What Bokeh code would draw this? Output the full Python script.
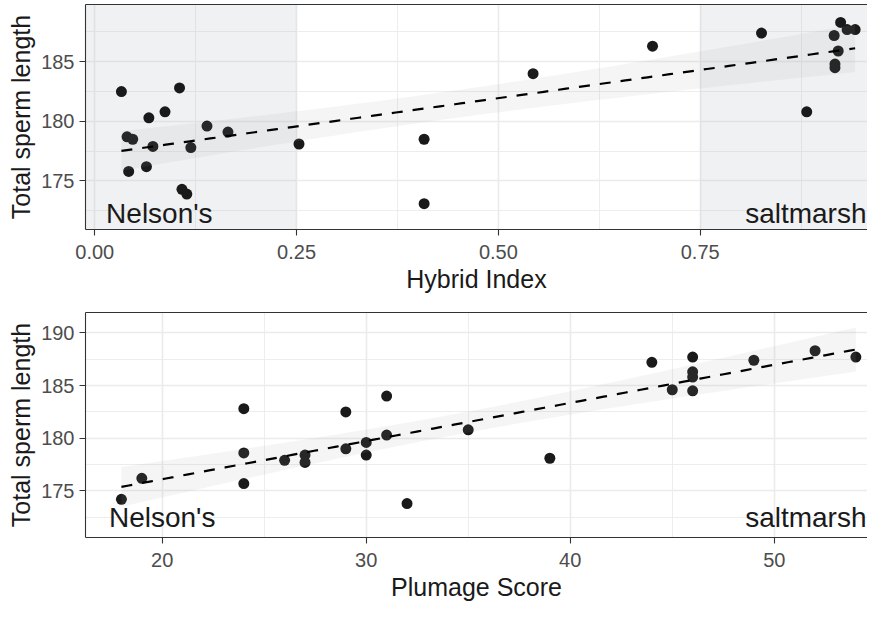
import numpy as np
from bokeh.plotting import figure
from bokeh.layouts import column
from bokeh.models import FixedTicker, BoxAnnotation, Range1d, NumeralTickFormatter, LinearAxis
from bokeh.core.properties import value
from bokeh.embed import file_html
from bokeh.resources import INLINE

# ---- data ----
hybrid_index = [0.033, 0.040, 0.047, 0.042, 0.067, 0.064, 0.072, 0.087, 0.105, 0.108,
                0.114, 0.119, 0.139, 0.165, 0.253, 0.408, 0.408, 0.543, 0.691, 0.826,
                0.924, 0.932, 0.942, 0.916, 0.921, 0.917, 0.917, 0.882]
sperm_hybrid = [182.5, 178.7, 178.5, 175.8, 180.3, 176.2, 177.9, 180.8, 182.8, 174.3,
                173.9, 177.8, 179.6, 179.1, 178.1, 178.5, 173.1, 184.0, 186.3, 187.4,
                188.3, 187.7, 187.7, 187.2, 185.9, 184.8, 184.5, 180.8]

plumage_score = [18, 19, 24, 24, 24, 26, 27, 27, 29, 29, 30, 30, 31, 31, 32,
                 35, 39, 44, 45, 46, 46, 46, 46, 49, 52, 54]
sperm_plumage = [174.2, 176.2, 182.8, 178.6, 175.7, 177.9, 178.4, 177.7, 182.5, 179.0,
                 179.6, 178.4, 184.0, 180.3, 173.8, 180.8, 178.1, 187.2, 184.6, 187.7,
                 186.3, 185.8, 184.5, 187.4, 188.3, 187.7]

x_ticks_top = [0.0, 0.25, 0.5, 0.75]
x_minor_top = [0.125, 0.375, 0.625, 0.875]
x_ticks_bottom = [20, 30, 40, 50]
x_minor_bottom = [15, 25, 35, 45, 55]
y_ticks = [175, 180, 185, 190]
y_minor = [172.5, 177.5, 182.5, 187.5]

nelson_max_hi = 0.25      # Nelson's shaded region upper bound (hybrid index)
saltmarsh_min_hi = 0.75   # saltmarsh shaded region lower bound

top_xrange = (-0.0115, 0.9573)
top_yrange = (170.93, 189.8)
bot_xrange = (16.24, 54.57)
bot_yrange = (170.58, 191.93)

# annotation anchors (data units); saltmarsh is right-aligned to the panel's right edge
top_nelson = (0.08, 171.45)
top_saltmarsh = (top_xrange[1], 171.45)
bot_nelson = (20, 171.5)
bot_saltmarsh = (bot_xrange[1], 171.5)

T_TOP = 2.056   # t quantile, df = 26
T_BOT = 2.064   # t quantile, df = 24

FONT = "Liberation Sans"
DARK = "#333333"


def fit(x, y, t):
    x = np.asarray(x, float)
    y = np.asarray(y, float)
    n = len(x)
    b, a = np.polyfit(x, y, 1)
    xs = np.linspace(x.min(), x.max(), 100)
    yhat = a + b * xs
    resid = y - (a + b * x)
    s = np.sqrt(np.sum(resid ** 2) / (n - 2))
    sxx = np.sum((x - x.mean()) ** 2)
    se = s * np.sqrt(1.0 / n + (xs - x.mean()) ** 2 / sxx)
    return xs, yhat, yhat - t * se, yhat + t * se


def style(p, xticks, xminor, xlabel, formatter=None):
    p.outline_line_color = None
    p.background_fill_color = "white"
    p.border_fill_color = "white"
    xax = p.below[0]
    yax = p.left[0]
    for ax in (xax, yax):
        ax.axis_line_color = DARK
        ax.axis_line_width = 1.1
        ax.major_tick_line_color = DARK
        ax.major_tick_line_width = 1.1
        ax.major_tick_in = 0
        ax.major_tick_out = 6
        ax.minor_tick_in = 0
        ax.minor_tick_out = 0
        ax.major_label_text_font = FONT
        ax.major_label_text_font_size = "20px"
        ax.major_label_text_color = "#4d4d4d"
        ax.axis_label_text_font = FONT
        ax.axis_label_text_font_size = "25px"
        ax.axis_label_text_font_style = "normal"
        ax.axis_label_text_color = "#1a1a1a"
        ax.axis_label_standoff = 3
    xax.major_label_standoff = 9
    yax.major_label_standoff = 5
    xax.ticker = FixedTicker(ticks=xticks, minor_ticks=xminor)
    yax.ticker = FixedTicker(ticks=y_ticks, minor_ticks=y_minor)
    if formatter is not None:
        xax.formatter = formatter
    xax.axis_label = xlabel
    yax.axis_label = "Total sperm length"
    # top border line of the panel
    top = LinearAxis(ticker=FixedTicker(ticks=[]), axis_line_color=DARK, axis_line_width=1.1,
                     major_tick_out=0, major_tick_in=0, minor_tick_out=0, minor_tick_in=0,
                     major_label_standoff=0, axis_label_standoff=0,
                     major_label_text_font_size="0px")
    p.add_layout(top, "above")
    for g in (p.xgrid[0], p.ygrid[0]):
        g.grid_line_color = "#ebebeb"
        g.grid_line_width = 1.6
        g.minor_grid_line_color = "#ebebeb"
        g.minor_grid_line_width = 0.9


def draw(p, x, y, t, nelson, saltmarsh):
    p.scatter(x, y, size=11, fill_color="#1a1a1a", line_color=None)
    xs, yhat, lo, hi = fit(x, y, t)
    p.varea(x=xs, y1=lo, y2=hi, fill_color="#999999", fill_alpha=0.1)
    p.line(xs, yhat, line_color="black", line_width=2.2, line_dash="11 10")
    p.text(x=[nelson[0]], y=[nelson[1]], text=["Nelson's"], text_align="center",
           text_baseline="alphabetic", text_font=value(FONT), text_font_size="28px",
           text_color="#1a1a1a", y_offset=-10)
    p.text(x=[saltmarsh[0]], y=[saltmarsh[1]], text=["saltmarsh"], text_align="right",
           text_baseline="alphabetic", text_font=value(FONT), text_font_size="28px",
           text_color="#1a1a1a", x_offset=-1, y_offset=-10)


p1 = figure(width=867, height=295, output_backend="svg", toolbar_location=None,
            x_range=Range1d(*top_xrange), y_range=Range1d(*top_yrange),
            min_border_left=85, min_border_right=0, min_border_top=4, min_border_bottom=62)
style(p1, x_ticks_top, x_minor_top, "Hybrid Index", NumeralTickFormatter(format="0.00"))
p1.add_layout(BoxAnnotation(right=nelson_max_hi, fill_color="#b4b9c3", fill_alpha=0.2,
                            line_color=None, level="underlay"))
p1.add_layout(BoxAnnotation(left=saltmarsh_min_hi, fill_color="#b4b9c3", fill_alpha=0.2,
                            line_color=None, level="underlay"))
draw(p1, hybrid_index, sperm_hybrid, T_TOP, top_nelson, top_saltmarsh)

p2 = figure(width=867, height=308, output_backend="svg", toolbar_location=None,
            x_range=Range1d(*bot_xrange), y_range=Range1d(*bot_yrange),
            min_border_left=85, min_border_right=0, min_border_top=17, min_border_bottom=62)
style(p2, x_ticks_bottom, x_minor_bottom, "Plumage Score")
draw(p2, plumage_score, sperm_plumage, T_BOT, bot_nelson, bot_saltmarsh)

layout = column(p1, p2, spacing=0)
open("out.html", "w").write(file_html(layout, INLINE))
